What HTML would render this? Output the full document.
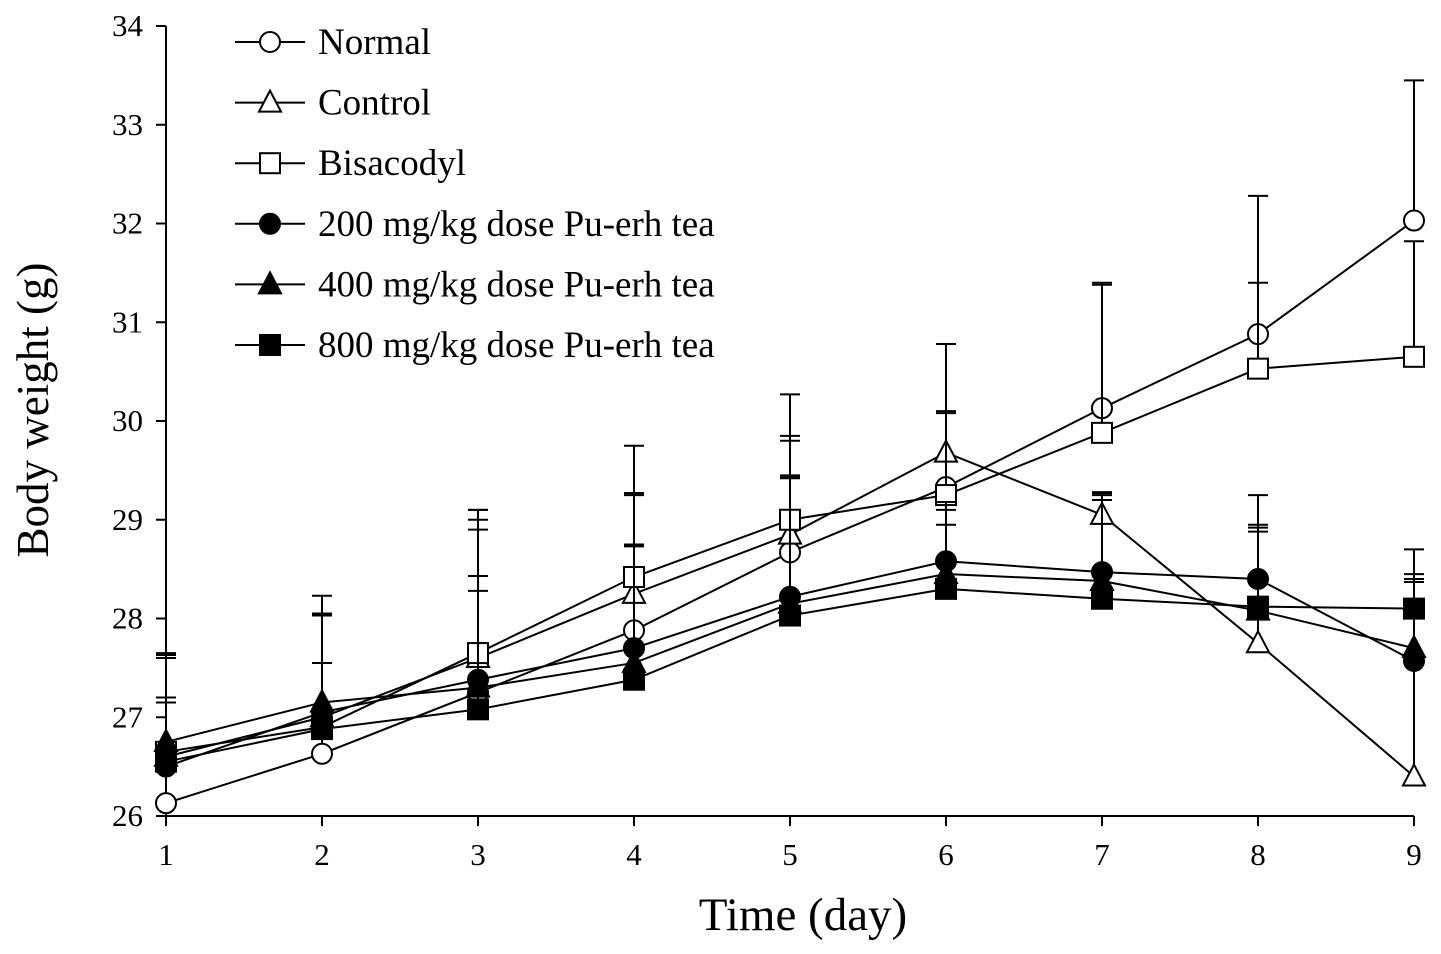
<!DOCTYPE html>
<html><head><meta charset="utf-8"><style>
html,body{margin:0;padding:0;background:#fff}
svg{display:block;font-family:"Liberation Serif",serif}
</style></head><body>
<svg id="chart" width="1441" height="954" viewBox="0 0 1441 954" xmlns="http://www.w3.org/2000/svg">
<g id="axes"></g><g id="plot"></g><g id="legend"></g>
<text transform="translate(48,410) rotate(-90)" text-anchor="middle" font-size="45">Body weight (g)</text>
<text x="803" y="930" text-anchor="middle" font-size="47">Time (day)</text>
</svg>
<script>
const days = [1,2,3,4,5,6,7,8,9];
const yTicks = [26,27,28,29,30,31,32,33,34];
const seriesNames = ["Normal","Control","Bisacodyl","200 mg/kg dose Pu-erh tea","400 mg/kg dose Pu-erh tea","800 mg/kg dose Pu-erh tea"];
const markers = ["circle-open","triangle-open","square-open","circle-filled","triangle-filled","square-filled"];
const normal = [26.13,26.63,27.25,27.88,28.67,29.33,30.13,30.88,32.03];
const control = [26.6,27.0,27.6,28.25,28.85,29.68,29.05,27.75,26.4];
const bisacodyl = [26.65,26.9,27.65,28.42,29.0,29.25,29.88,30.53,30.65];
const dose200 = [26.5,27.05,27.38,27.7,28.22,28.58,28.47,28.4,27.57];
const dose400 = [26.75,27.15,27.3,27.55,28.15,28.45,28.38,28.08,27.7];
const dose800 = [26.55,26.88,27.08,27.38,28.03,28.3,28.2,28.12,28.1];
const errNormal = [1.5,1.6,1.85,1.87,1.6,1.45,1.27,1.4,1.42];
const errControl = [1.0,1.05,1.4,1.0,1.0,0.4,0.2,1.2,2.3];
const errBisacodyl = [0.5,1.15,1.45,0.85,0.8,0.85,1.5,0.87,1.17];
const err200 = [0.7,0.5,0.9,1.57,1.2,0.6,0.8,0.85,0.8];
const err400 = [0.4,0.9,1.6,1.2,1.3,0.5,0.9,0.8,0.7];
const err800 = [1.1,1.15,1.35,1.35,1.4,0.8,1.0,0.8,0.35];

const allValues = [normal,control,bisacodyl,dose200,dose400,dose800];
const allErrors = [errNormal,errControl,errBisacodyl,err200,err400,err800];
const NS="http://www.w3.org/2000/svg";
const X0=166,X1=1414,Y0=816,Y1=26;
function xs(d){return X0+(d-1)*(X1-X0)/8;}
function ys(v){return Y0-(v-26)*(Y0-Y1)/8;}
function mk(tag,attrs,parent){const e=document.createElementNS(NS,tag);for(const k in attrs)e.setAttribute(k,attrs[k]);parent.appendChild(e);return e;}
const axes=document.getElementById('axes'),plot=document.getElementById('plot'),legend=document.getElementById('legend');
let e=mk('line',{x1:X0,y1:Y1,x2:X0,y2:Y0,stroke:'#000','stroke-width':2},axes);


e=mk('line',{x1:X0,y1:Y0,x2:X1,y2:Y0,stroke:'#000','stroke-width':2},axes);


yTicks.forEach(t=>{mk('line',{x1:X0-10,y1:ys(t),x2:X0,y2:ys(t),stroke:'#000','stroke-width':2},axes);
 const tx=mk('text',{x:143,y:ys(t)+10,'text-anchor':'end','font-size':31},axes);tx.textContent=t;
 
 });
days.forEach(d=>{mk('line',{x1:xs(d),y1:Y0,x2:xs(d),y2:Y0+10,stroke:'#000','stroke-width':2},axes);
 const tx=mk('text',{x:xs(d),y:865,'text-anchor':'middle','font-size':31},axes);tx.textContent=d;
 
 });
function marker(type,cx,cy,parent){
 const filled=type.endsWith('filled');const fill=filled?'#000':'#fff';let m;
 if(type.startsWith('circle'))m=mk('circle',{cx:cx,cy:cy,r:10,fill:fill,stroke:'#000','stroke-width':2},parent);
 else if(type.startsWith('square'))m=mk('rect',{x:cx-10,y:cy-10,width:20,height:20,fill:fill,stroke:'#000','stroke-width':2},parent);
 else m=mk('polygon',{points:`${cx},${cy-12} ${cx-11},${cy+9} ${cx+11},${cy+9}`,fill:fill,stroke:'#000','stroke-width':2},parent);
 return m;}
allValues.forEach((vals,i)=>{
 const g=mk('g',{},plot);
 
 
 days.forEach((d,j)=>{const top=vals[j]+allErrors[i][j];
  mk('line',{x1:xs(d),y1:ys(vals[j]),x2:xs(d),y2:ys(top),stroke:'#000','stroke-width':2},g);
  mk('line',{x1:xs(d)-10,y1:ys(top),x2:xs(d)+10,y2:ys(top),stroke:'#000','stroke-width':2},g);});
 const p=mk('polyline',{points:days.map((d,j)=>xs(d)+','+ys(vals[j])).join(' '),fill:'none',stroke:'#000','stroke-width':2},g);
 
 
 days.forEach((d,j)=>{const m=marker(markers[i],xs(d),ys(vals[j]),g);
  
  });
});
seriesNames.forEach((n,i)=>{const y=42+i*60.6;
 const g=mk('g',{},legend);
 
 
 mk('line',{x1:235,y1:y,x2:305,y2:y,stroke:'#000','stroke-width':2},g);
 marker(markers[i],270,y,g);
 const t=mk('text',{x:318,y:y+12,'font-size':37},g);t.textContent=n;});
</script>
</body></html>
